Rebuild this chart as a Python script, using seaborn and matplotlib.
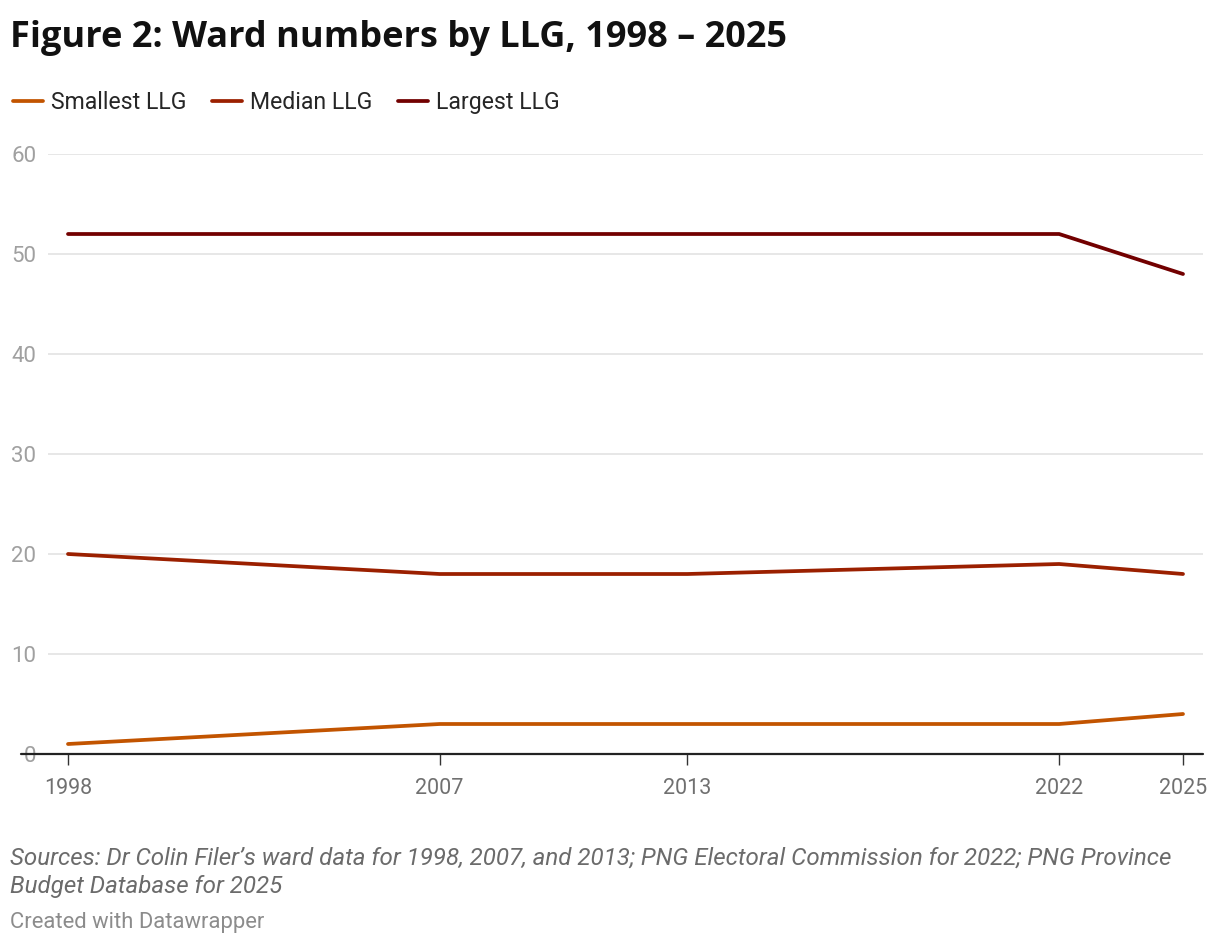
import pandas as pd
import matplotlib.pyplot as plt
import seaborn as sns

# data
years = [1998, 2007, 2013, 2022, 2025]
smallest = [1, 3, 3, 3, 4]
median = [20, 18, 18, 19, 18]
largest = [52, 52, 52, 52, 48]
series_names = ["Smallest LLG", "Median LLG", "Largest LLG"]
colors = ["#c25400", "#9b2000", "#720000"]
y_ticks = [0, 10, 20, 30, 40, 50, 60]

df = pd.DataFrame({
    "year": years * 3,
    "wards": smallest + median + largest,
    "series": [series_names[0]] * 5 + [series_names[1]] * 5 + [series_names[2]] * 5,
})

sns.set_theme(style="white")
plt.rcParams['font.family'] = ['Roboto', 'DejaVu Sans']

W, H = 1220, 946
fig = plt.figure(figsize=(W / 100, H / 100), dpi=100)

# axes placed in pixel terms
left, right, top, bottom = 48, 1203, 154, 754
ax = fig.add_axes([left / W, 1 - bottom / H, (right - left) / W, (bottom - top) / H])

sns.lineplot(data=df, x="year", y="wards", hue="series", palette=colors,
             hue_order=series_names, linewidth=2.7, ax=ax, legend=True)

# x range so that 1998 and 2025 sit where they do in the original
px_per_year = (1183 - 68) / 27
ax.set_xlim(1998 - (68 - left) / px_per_year, 2025 + (right - 1183) / px_per_year)
ax.set_ylim(0, 60)

ax.set_yticks(y_ticks)
ax.set_xticks(years)
ax.set_xticklabels([str(y) for y in years])
ax.yaxis.grid(True, color="#e3e3e3", linewidth=1.2)
ax.set_axisbelow(True)
for s in ["top", "right", "left", "bottom"]:
    ax.spines[s].set_visible(False)

# bottom axis line extends a bit left of the grid
ax.plot([(21 - left) / (right - left), 1], [0, 0], transform=ax.transAxes,
        color="#222222", linewidth=1.6, clip_on=False, zorder=5)

ax.tick_params(axis="y", length=0, labelsize=16, labelcolor="#a0a0a0", pad=8.5)
ax.tick_params(axis="x", length=8, width=1, color="#333333", direction="out",
               labelsize=15.5, labelcolor="#707070", pad=9, bottom=True)
ax.set_xlabel("")
ax.set_ylabel("")

# legend across the top
handles, labels = ax.get_legend_handles_labels()
ax.legend(handles, labels, ncol=3, frameon=False, loc="upper left",
          bbox_to_anchor=(4 / W, 1 - 82 / H), bbox_transform=fig.transFigure,
          fontsize=16.6, handlelength=1.3, handletextpad=0.35, columnspacing=1.1,
          borderaxespad=0)

fig.text(10 / W, 1 - 38 / H, "Figure 2: Ward numbers by LLG, 1998 \u2013 2025",
         fontsize=26, fontweight="bold", family=["Open Sans", "DejaVu Sans"],
         color="#111111", va="center", ha="left")

fig.text(10 / W, 1 - 858 / H,
         "Sources: Dr Colin Filer\u2019s ward data for 1998, 2007, and 2013; PNG Electoral Commission for 2022; PNG Province",
         fontsize=17.4, style="italic", color="#6b6b6b", va="center", ha="left")
fig.text(10 / W, 1 - 886 / H, "Budget Database for 2025",
         fontsize=17.4, style="italic", color="#6b6b6b", va="center", ha="left")
fig.text(10 / W, 1 - 922 / H, "Created with Datawrapper",
         fontsize=15.8, color="#8c8c8c", va="center", ha="left")

fig.savefig("out.png", dpi=100)
